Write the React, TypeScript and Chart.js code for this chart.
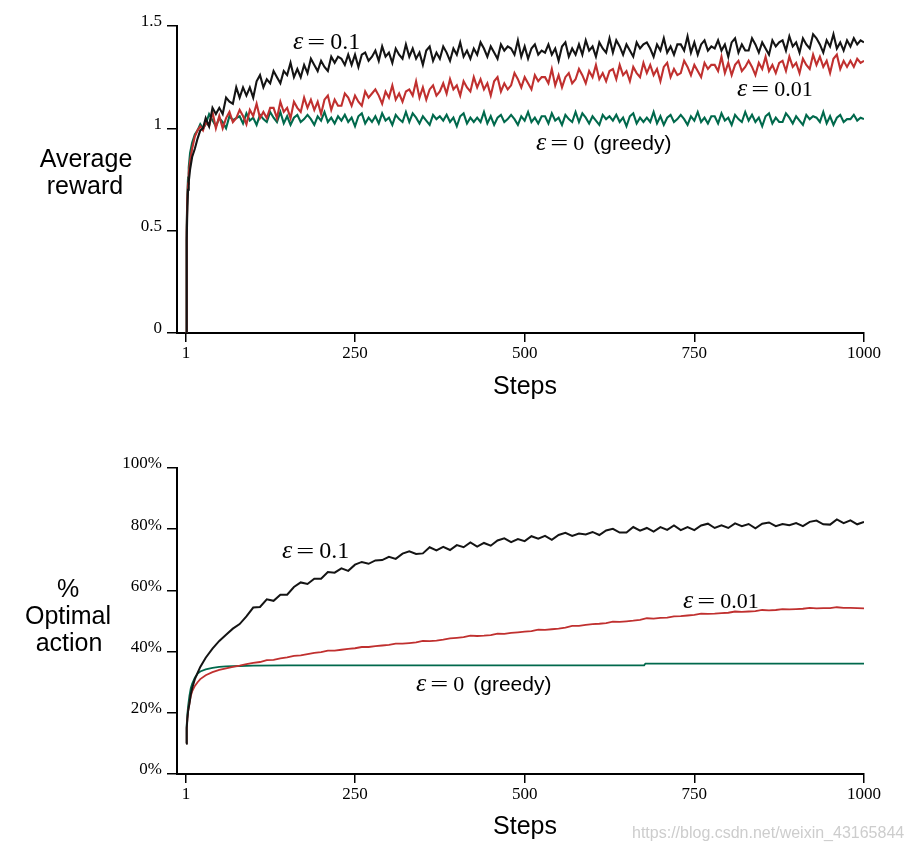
import React, { useEffect, useRef } from 'react';
import { Chart, registerables } from 'chart.js';
Chart.register(...registerables);

// ---------- Data ----------
const xTickValues = [1, 250, 500, 750, 1000];
const rewardTickValues = [0, 0.5, 1, 1.5];
const optimalTickValues = [0, 20, 40, 60, 80, 100];

const rewardSteps = [
  1, 2, 3, 4, 5, 7, 10, 14, 18, 22, 26,
  30, 35, 40, 45, 50, 55, 60, 65, 70, 75,
  80, 85, 90, 95, 100, 105, 110, 115, 120, 125,
  130, 135, 140, 145, 150, 155, 160, 165, 170, 175,
  180, 185, 190, 195, 200, 205, 210, 215, 220, 225,
  230, 235, 240, 245, 250, 255, 260, 265, 270, 275,
  280, 285, 290, 295, 300, 305, 310, 315, 320, 325,
  330, 335, 340, 345, 350, 355, 360, 365, 370, 375,
  380, 385, 390, 395, 400, 405, 410, 415, 420, 425,
  430, 435, 440, 445, 450, 455, 460, 465, 470, 475,
  480, 485, 490, 495, 500, 505, 510, 515, 520, 525,
  530, 535, 540, 545, 550, 555, 560, 565, 570, 575,
  580, 585, 590, 595, 600, 605, 610, 615, 620, 625,
  630, 635, 640, 645, 650, 655, 660, 665, 670, 675,
  680, 685, 690, 695, 700, 705, 710, 715, 720, 725,
  730, 735, 740, 745, 750, 755, 760, 765, 770, 775,
  780, 785, 790, 795, 800, 805, 810, 815, 820, 825,
  830, 835, 840, 845, 850, 855, 860, 865, 870, 875,
  880, 885, 890, 895, 900, 905, 910, 915, 920, 925,
  930, 935, 940, 945, 950, 955, 960, 965, 970, 975,
  980, 985, 990, 995, 1000,
];

const rewardEps01 = [
  0, 0.45, 0.62, 0.7, 0.74, 0.8, 0.86, 0.9, 0.95, 0.99, 1.0,
  1.05, 1.01, 1.1, 1.07, 1.1, 1.07, 1.15, 1.13, 1.12, 1.2,
  1.15, 1.2, 1.16, 1.2, 1.15, 1.23, 1.26, 1.2, 1.24, 1.22,
  1.28, 1.25, 1.22, 1.28, 1.26, 1.32, 1.25, 1.29, 1.25, 1.31,
  1.27, 1.34, 1.31, 1.28, 1.33, 1.3, 1.28, 1.35, 1.32, 1.35,
  1.34, 1.31, 1.36, 1.31, 1.36, 1.3, 1.36, 1.37, 1.33, 1.35,
  1.38, 1.33, 1.4, 1.35, 1.37, 1.32, 1.39, 1.36, 1.34, 1.41,
  1.35, 1.39, 1.34, 1.37, 1.31, 1.38, 1.4, 1.33, 1.37, 1.34,
  1.4, 1.37, 1.33, 1.39, 1.36, 1.42, 1.35, 1.38, 1.34, 1.39,
  1.36, 1.42, 1.39, 1.35, 1.4, 1.37, 1.34, 1.41, 1.38, 1.4,
  1.39, 1.36, 1.43, 1.35, 1.4, 1.34, 1.39, 1.41, 1.36, 1.38,
  1.37, 1.41, 1.36, 1.39, 1.33, 1.4, 1.42, 1.35, 1.39, 1.36,
  1.41, 1.36, 1.43, 1.38, 1.4, 1.35, 1.42, 1.39, 1.37, 1.44,
  1.37, 1.43, 1.4, 1.36, 1.41, 1.38, 1.35, 1.42, 1.39, 1.41,
  1.42, 1.39, 1.35, 1.41, 1.38, 1.44, 1.37, 1.4, 1.36, 1.41,
  1.41, 1.38, 1.45, 1.37, 1.42, 1.36, 1.41, 1.43, 1.38, 1.4,
  1.39, 1.43, 1.38, 1.41, 1.35, 1.42, 1.44, 1.37, 1.41, 1.38,
  1.38, 1.44, 1.41, 1.37, 1.42, 1.39, 1.36, 1.43, 1.4, 1.42,
  1.43, 1.38, 1.45, 1.4, 1.42, 1.37, 1.44, 1.41, 1.39, 1.46,
  1.44, 1.41, 1.37, 1.43, 1.4, 1.46, 1.39, 1.42, 1.38, 1.43,
  1.4, 1.44, 1.41, 1.43, 1.42,
];

const rewardEps001 = [
  0, 0.5, 0.66, 0.73, 0.78, 0.84, 0.9, 0.96, 0.99, 1.01, 0.99,
  1.03, 1.01, 1.08, 1.0, 1.06, 1.0, 1.05, 1.08, 1.03, 1.05,
  1.09, 1.06, 1.02, 1.09, 1.06, 1.12, 1.05, 1.08, 1.05, 1.1,
  1.1, 1.05, 1.13, 1.08, 1.1, 1.05, 1.13, 1.1, 1.08, 1.15,
  1.1, 1.14, 1.09, 1.13, 1.07, 1.14, 1.16, 1.09, 1.14, 1.11,
  1.11, 1.17, 1.15, 1.11, 1.16, 1.13, 1.11, 1.18, 1.15, 1.17,
  1.19, 1.16, 1.12, 1.18, 1.15, 1.21, 1.14, 1.17, 1.13, 1.18,
  1.19, 1.16, 1.23, 1.15, 1.2, 1.14, 1.19, 1.21, 1.16, 1.18,
  1.22, 1.17, 1.24, 1.19, 1.21, 1.16, 1.23, 1.2, 1.18, 1.25,
  1.2, 1.24, 1.19, 1.22, 1.16, 1.23, 1.25, 1.18, 1.22, 1.19,
  1.21, 1.27, 1.24, 1.2, 1.25, 1.22, 1.19, 1.26, 1.23, 1.25,
  1.25, 1.22, 1.29, 1.21, 1.26, 1.2, 1.25, 1.27, 1.22, 1.24,
  1.29, 1.26, 1.22, 1.28, 1.25, 1.31, 1.24, 1.27, 1.23, 1.28,
  1.29, 1.24, 1.31, 1.26, 1.28, 1.23, 1.3, 1.27, 1.25, 1.32,
  1.27, 1.31, 1.26, 1.29, 1.23, 1.3, 1.32, 1.25, 1.29, 1.26,
  1.27, 1.33, 1.3, 1.26, 1.31, 1.28, 1.25, 1.32, 1.29, 1.31,
  1.31, 1.28, 1.35, 1.27, 1.32, 1.26, 1.31, 1.33, 1.28, 1.3,
  1.33, 1.3, 1.26, 1.32, 1.29, 1.35, 1.28, 1.31, 1.27, 1.32,
  1.33, 1.28, 1.35, 1.3, 1.32, 1.27, 1.34, 1.31, 1.29, 1.36,
  1.31, 1.35, 1.3, 1.33, 1.27, 1.34, 1.36, 1.29, 1.33, 1.3,
  1.33, 1.3, 1.34, 1.32, 1.33,
];

const rewardGreedy = [
  0, 0.52, 0.68, 0.76, 0.81, 0.88, 0.93, 0.97, 0.99, 1.02, 1.0,
  1.02, 1.07, 1.04, 1.01, 1.05, 1.03, 1.0, 1.06, 1.04, 1.05,
  1.059, 1.024, 1.073, 1.038, 1.052, 1.017, 1.066, 1.045, 1.031, 1.08,
  1.052, 1.031, 1.08, 1.024, 1.059, 1.017, 1.052, 1.066, 1.031, 1.045,
  1.066, 1.045, 1.017, 1.059, 1.038, 1.08, 1.031, 1.052, 1.024, 1.059,
  1.038, 1.066, 1.031, 1.052, 1.01, 1.059, 1.073, 1.024, 1.052, 1.031,
  1.059, 1.024, 1.073, 1.038, 1.052, 1.017, 1.066, 1.045, 1.031, 1.08,
  1.031, 1.073, 1.052, 1.024, 1.059, 1.038, 1.017, 1.066, 1.045, 1.059,
  1.038, 1.066, 1.031, 1.052, 1.01, 1.059, 1.073, 1.024, 1.052, 1.031,
  1.052, 1.031, 1.08, 1.024, 1.059, 1.017, 1.052, 1.066, 1.031, 1.045,
  1.066, 1.045, 1.017, 1.059, 1.038, 1.08, 1.031, 1.052, 1.024, 1.059,
  1.059, 1.024, 1.073, 1.038, 1.052, 1.017, 1.066, 1.045, 1.031, 1.08,
  1.031, 1.073, 1.052, 1.024, 1.059, 1.038, 1.017, 1.066, 1.045, 1.059,
  1.038, 1.066, 1.031, 1.052, 1.01, 1.059, 1.073, 1.024, 1.052, 1.031,
  1.052, 1.031, 1.08, 1.024, 1.059, 1.017, 1.052, 1.066, 1.031, 1.045,
  1.066, 1.045, 1.017, 1.059, 1.038, 1.08, 1.031, 1.052, 1.024, 1.059,
  1.059, 1.024, 1.073, 1.038, 1.052, 1.017, 1.066, 1.045, 1.031, 1.08,
  1.038, 1.066, 1.031, 1.052, 1.01, 1.059, 1.073, 1.024, 1.052, 1.031,
  1.031, 1.073, 1.052, 1.024, 1.059, 1.038, 1.017, 1.066, 1.045, 1.059,
  1.052, 1.031, 1.08, 1.024, 1.059, 1.017, 1.052, 1.066, 1.031, 1.045,
  1.045, 1.066, 1.038, 1.052, 1.045,
];

const optimalSteps = [
  1, 2, 3, 4, 6, 8, 10, 14, 18, 22, 30, 40, 50, 60, 70, 80, 90,
  100, 110, 120, 130, 140, 150, 160, 170, 180, 190,
  200, 210, 220, 230, 240, 250, 260, 270, 280, 290,
  300, 310, 320, 330, 340, 350, 360, 370, 380, 390,
  400, 410, 420, 430, 440, 450, 460, 470, 480, 490,
  500, 510, 520, 530, 540, 550, 560, 570, 580, 590,
  600, 610, 620, 630, 640, 650, 660, 670, 680, 690,
  700, 710, 720, 730, 740, 750, 760, 770, 780, 790,
  800, 810, 820, 830, 840, 850, 860, 870, 880, 890,
  900, 910, 920, 930, 940, 950, 960, 970, 980, 990,
  1000,
];

const optimalEps01 = [
  10, 15, 18, 20.5, 23, 26, 28, 31, 33, 35, 38, 41, 43.5, 45.5, 47.5, 49, 51.5,
  54.4, 54.6, 57.1, 56.6, 58.6, 58.6, 61.1, 62.6, 62.1, 63.8,
  63.8, 66.0, 65.8, 67.2, 66.4, 68.4, 69.3, 68.7, 69.8, 69.9,
  71.0, 70.3, 72.0, 72.8, 71.9, 72.1, 74.1, 73.1, 74.2, 73.2,
  74.8, 74.1, 75.7, 74.3, 75.5, 74.6, 76.3, 77.0, 75.8, 76.8,
  76.1, 77.7, 76.9, 77.8, 76.5, 78.1, 78.8, 77.8, 78.6, 78.3,
  79.1, 78.1, 79.6, 80.1, 78.9, 78.9, 80.7, 79.5, 80.4, 79.2,
  80.7, 79.8, 81.2, 79.7, 80.7, 79.7, 81.2, 81.8, 80.4, 81.3,
  80.4, 81.9, 81.0, 81.7, 80.3, 81.8, 82.2, 81.0, 81.7, 81.3,
  82.0, 81.0, 82.4, 82.8, 81.6, 81.5, 83.2, 82.0, 82.9, 81.6,
  82.4,
];

const optimalEps001 = [
  10, 15, 18, 20.5, 23, 25.5, 27, 28.8, 30, 31, 32.3, 33.3, 34, 34.5, 35, 35.4, 35.9,
  36.3, 36.6, 37.2, 37.3, 37.8, 38.1, 38.6, 38.8, 39.2, 39.6,
  39.8, 40.3, 40.3, 40.6, 40.9, 41.1, 41.5, 41.5, 41.8, 42.0,
  42.2, 42.6, 42.6, 42.8, 43.0, 43.5, 43.4, 43.6, 43.9, 44.3,
  44.5, 44.7, 45.2, 45.1, 45.2, 45.4, 45.9, 45.8, 46.1, 46.3,
  46.5, 46.7, 47.2, 47.1, 47.3, 47.5, 47.8, 48.4, 48.4, 48.7,
  49.0, 49.1, 49.3, 49.8, 49.7, 49.9, 50.1, 50.4, 50.9, 50.8,
  51.0, 51.1, 51.5, 51.6, 51.8, 52.0, 52.4, 52.3, 52.4, 52.6,
  52.7, 53.1, 53.0, 53.1, 53.2, 53.6, 53.5, 53.6, 53.9, 53.8,
  53.9, 54.0, 54.3, 54.1, 54.2, 54.2, 54.5, 54.3, 54.3, 54.2,
  54.1,
];

const greedySteps = [1, 2, 3, 4, 6, 8, 10, 14, 18, 22, 30, 40, 50, 60, 80, 100, 150, 300, 676, 678, 1000];
const optimalGreedy = [10, 16, 19.5, 22, 25.5, 28, 29.5, 31.5, 32.8, 33.5, 34.2, 34.7, 35.0, 35.2, 35.3, 35.4, 35.5, 35.5, 35.5, 36.1, 36.1];

const BLACK = '#141414';
const RED = '#c0302f';
const GREEN = '#00694c';

// ---------- helpers ----------
const zip = (xs: number[], ys: number[]) => {
  const n = Math.min(xs.length, ys.length);
  const out: { x: number; y: number }[] = [];
  for (let i = 0; i < n; i++) out.push({ x: xs[i], y: ys[i] });
  return out;
};

const SERIF = '"Liberation Serif", "Times New Roman", serif';
const SANS = '"Liberation Sans", Arial, sans-serif';

function drawEps(ctx: CanvasRenderingContext2D, x: number, y: number, value: string, greedy: boolean, size: number) {
  ctx.save();
  ctx.fillStyle = '#000';
  ctx.textAlign = 'left';
  ctx.textBaseline = 'alphabetic';
  ctx.font = `italic 26px ${SERIF}`;
  ctx.fillText('ε', x, y);
  let cx = x + ctx.measureText('ε').width + 4;
  ctx.font = `22px ${SERIF}`;
  const eqW = ctx.measureText('=').width;
  ctx.save();
  ctx.translate(cx, y);
  ctx.scale(1.45, 1);
  ctx.fillText('=', 0, 0);
  ctx.restore();
  cx += eqW * 1.45 + 5;
  ctx.font = `${size}px ${SERIF}`;
  ctx.fillText(value, cx, y);
  cx += ctx.measureText(value).width + 9;
  if (greedy) {
    ctx.font = `21px ${SANS}`;
    ctx.fillText('(greedy)', cx, y);
  }
  ctx.restore();
}

type Label =
  | { kind: 'eps'; x: number; y: number; value: string; greedy: boolean; size: number }
  | { kind: 'text'; x: number; y: number; text: string; font: string; color?: string; align?: CanvasTextAlign };

function textPlugin(offsetY: number, labels: Label[]) {
  return {
    id: 'texts' + offsetY,
    afterDraw(chart: any) {
      const ctx: CanvasRenderingContext2D = chart.ctx;
      for (const l of labels) {
        if (l.kind === 'eps') {
          drawEps(ctx, l.x, l.y - offsetY, l.value, l.greedy, l.size);
        } else {
          ctx.save();
          ctx.font = l.font;
          ctx.fillStyle = l.color || '#000';
          ctx.textAlign = l.align || 'center';
          ctx.textBaseline = 'alphabetic';
          ctx.fillText(l.text, l.x, l.y - offsetY);
          ctx.restore();
        }
      }
    },
  };
}

function xScale() {
  return {
    type: 'linear',
    min: -12.3,
    max: 1000,
    afterBuildTicks: (s: any) => {
      s.ticks = xTickValues.map((v) => ({ value: v }));
    },
    afterFit: (s: any) => {
      s.height = 40;
    },
    ticks: {
      font: { family: SERIF, size: 17 },
      color: '#000',
      padding: 1,
      maxRotation: 0,
      autoSkip: false,
      callback: (v: any) => String(v),
    },
    grid: { drawOnChartArea: false, drawTicks: true, tickLength: 9, color: '#000', lineWidth: 1.5 },
    border: { display: true, color: '#000', width: 2 },
  };
}

function yScale(min: number, max: number, ticks: number[], fmt: (v: number) => string) {
  return {
    type: 'linear',
    min,
    max,
    afterBuildTicks: (s: any) => {
      s.ticks = ticks.map((v) => ({ value: v }));
    },
    afterFit: (s: any) => {
      s.width = 177;
    },
    ticks: {
      font: { family: SERIF, size: 17 },
      color: '#000',
      padding: 5,
      labelOffset: -4,
      autoSkip: false,
      callback: (v: any) => fmt(Number(v)),
    },
    grid: { drawOnChartArea: false, drawTicks: true, tickLength: 10, color: '#000', lineWidth: 1.5 },
    border: { display: true, color: '#000', width: 2 },
  };
}

function line(label: string, data: { x: number; y: number }[], color: string, width: number) {
  return {
    label,
    data,
    borderColor: color,
    backgroundColor: color,
    borderWidth: width,
    pointRadius: 0,
    tension: 0,
    fill: false,
  };
}

export default function App() {
  const topRef = useRef<HTMLCanvasElement>(null);
  const botRef = useRef<HTMLCanvasElement>(null);

  useEffect(() => {
    const topChart = new Chart(topRef.current as HTMLCanvasElement, {
      type: 'line',
      data: {
        datasets: [
          line('ε = 0.1', zip(rewardSteps, rewardEps01), BLACK, 2.1),
          line('ε = 0.01', zip(rewardSteps, rewardEps001), RED, 2.1),
          line('ε = 0 (greedy)', zip(rewardSteps, rewardGreedy), GREEN, 2.1),
        ],
      },
      options: {
        animation: false,
        responsive: false,
        maintainAspectRatio: false,
        layout: { padding: { left: 0, right: 48, top: 26, bottom: 47 } },
        plugins: { legend: { display: false }, tooltip: { enabled: false } },
        scales: {
          x: xScale(),
          y: yScale(0, 1.5, rewardTickValues, (v) => String(v)),
        },
      } as any,
      plugins: [
        textPlugin(0, [
          { kind: 'text', x: 86, y: 167, text: 'Average', font: `25px ${SANS}` },
          { kind: 'text', x: 85, y: 194, text: 'reward', font: `25px ${SANS}` },
          { kind: 'text', x: 525, y: 394, text: 'Steps', font: `25px ${SANS}` },
          { kind: 'eps', x: 293, y: 49, value: '0.1', greedy: false, size: 24 },
          { kind: 'eps', x: 737, y: 96, value: '0.01', greedy: false, size: 22 },
          { kind: 'eps', x: 536, y: 150, value: '0', greedy: true, size: 22 },
        ]),
      ],
    } as any);

    const botChart = new Chart(botRef.current as HTMLCanvasElement, {
      type: 'line',
      data: {
        datasets: [
          line('ε = 0.1', zip(optimalSteps, optimalEps01), BLACK, 2),
          line('ε = 0.01', zip(optimalSteps, optimalEps001), RED, 1.8),
          line('ε = 0 (greedy)', zip(greedySteps, optimalGreedy), GREEN, 1.8),
        ],
      },
      options: {
        animation: false,
        responsive: false,
        maintainAspectRatio: false,
        layout: { padding: { left: 0, right: 48, top: 48, bottom: 38 } },
        plugins: { legend: { display: false }, tooltip: { enabled: false } },
        scales: {
          x: xScale(),
          y: yScale(0, 100, optimalTickValues, (v) => v + '%'),
        },
      } as any,
      plugins: [
        textPlugin(420, [
          { kind: 'text', x: 68, y: 597, text: '%', font: `25px ${SANS}` },
          { kind: 'text', x: 68, y: 624, text: 'Optimal', font: `25px ${SANS}` },
          { kind: 'text', x: 69, y: 651, text: 'action', font: `25px ${SANS}` },
          { kind: 'text', x: 525, y: 834, text: 'Steps', font: `25px ${SANS}` },
          { kind: 'eps', x: 282, y: 558, value: '0.1', greedy: false, size: 24 },
          { kind: 'eps', x: 683, y: 608, value: '0.01', greedy: false, size: 22 },
          { kind: 'eps', x: 416, y: 691, value: '0', greedy: true, size: 22 },
          { kind: 'text', x: 632, y: 838, text: 'https://blog.csdn.net/weixin_43165844', font: `16px ${SANS}`, color: '#cdcdcd', align: 'left' },
        ]),
      ],
    } as any);

    return () => {
      topChart.destroy();
      botChart.destroy();
    };
  }, []);

  return (
    <div style={{ position: 'absolute', left: 0, top: 0, width: 912, height: 852, background: '#fff' }}>
      <canvas ref={topRef} width={912} height={420} style={{ position: 'absolute', left: 0, top: 0, width: 912, height: 420 }} />
      <canvas ref={botRef} width={912} height={432} style={{ position: 'absolute', left: 0, top: 420, width: 912, height: 432 }} />
    </div>
  );
}
